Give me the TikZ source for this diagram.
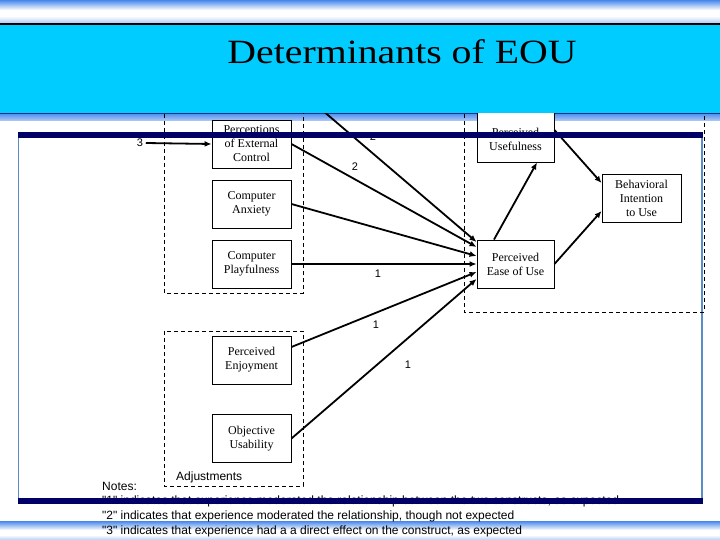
\documentclass[tikz,border=0pt]{standalone}
\usepackage{fontspec}
\usepackage{graphicx}
\setmainfont{Liberation Serif}
\newfontfamily\arialf{Liberation Sans}
\usetikzlibrary{arrows.meta,calc}
\definecolor{cyanband}{RGB}{0,204,255}
\definecolor{navybar}{RGB}{0,0,102}
\definecolor{framebl}{RGB}{90,140,200}
\definecolor{gradblue}{RGB}{70,135,235}
\definecolor{darkedge}{RGB}{20,50,140}
\begin{document}
\begin{tikzpicture}[x=1pt,y=-1pt,
  box/.style={draw=black,line width=0.9pt,fill=white,minimum width=79pt,minimum height=48pt,inner sep=0pt,align=center,font=\fontsize{12}{14}\selectfont},
  conn/.style={line width=1.8pt,-{Latex[length=7pt,width=6pt]}},
  dbox/.style={draw=black,line width=0.8pt,dash pattern=on 4pt off 3pt},
  num/.style={font=\arialf\fontsize{11}{13}\selectfont,inner sep=1pt},
  note/.style={font=\arialf\fontsize{12}{14}\selectfont,anchor=base west,inner sep=0pt}]
\useasboundingbox (0,0) rectangle (720,540);
\fill[white] (0,0) rectangle (720,540);
% top gradient band
\foreach \r in {0,...,22} {
  \pgfmathtruncatemacro\p{\r<10 ? 100-10*\r : (\r<16 ? 0 : (\r-16)*6)}
  \fill[gradblue!\p!white] (0,\r) rectangle (720,\r+1.05);
}
\fill[black] (0,23) rectangle (720,25.5);
% band under title
\foreach \r in {0,...,6} {
  \pgfmathtruncatemacro\p{90-7*\r}
  \fill[gradblue!\p!white] (0,114+\r) rectangle (720,115.05+\r);
}
\fill[darkedge] (0,113) rectangle (720,114.2);
% bottom gradient band
\foreach \r in {0,...,18} {
  \pgfmathtruncatemacro\p{\r<9 ? 100-11*\r : (\r<14 ? 0 : (\r-14)*8)}
  \fill[gradblue!\p!white] (0,521+\r) rectangle (720,522.05+\r);
}
% frame sides
\draw[framebl,line width=1.2pt] (18.5,132) -- (18.5,504);
\draw[framebl,line width=1.2pt] (702,132) -- (702,504);
% dashed groups
\draw[dbox] (164,100) rectangle (303,293);
\draw[dbox] (164,331) rectangle (303,486);
\draw[dbox] (464,100) rectangle (704,312);
% nodes
\node[box] (pec) at (251.5,144) {Perceptions\\of External\\Control};
\node[box] (anx) at (251.5,204) {Computer\\Anxiety};
\node[box] (play) at (251.5,264) {Computer\\Playfulness};
\node[box] (enj) at (251.5,360) {Perceived\\Enjoyment};
\node[box] (usab) at (251.5,438.5) {Objective\\Usability};
\node[box,minimum width=77pt,minimum height=50pt] (pu) at (515.5,137) {\\Perceived\\Usefulness};
\node[box,minimum width=77pt] (peou) at (515.5,264) {Perceived\\Ease of Use};
\node[box] (bi) at (641.5,198) {Behavioral\\Intention\\to Use};
\coordinate (topsrc) at (322,110);
\node[num,inner sep=2.5pt] (n3) at (140,143) {3};
% connectors
\draw[conn] (n3.east) -- (pec.west);
\draw[conn] (topsrc) -- ([yshift=22pt]peou.west);
\draw[conn] (pec.east) -- ([yshift=17pt]peou.west);
\draw[conn] (anx.east) -- ([yshift=8pt]peou.west);
\draw[conn] (play.east) -- (peou.west);
\draw[conn] ([yshift=13pt]enj.east) -- ([yshift=-8pt]peou.west);
\draw[conn] (usab.east) -- ([yshift=-15pt]peou.west);
\draw[conn] ([xshift=-21.5pt]peou.north) -- ([xshift=21.5pt]pu.south);
\draw[conn] ([yshift=7pt]pu.east) -- ([yshift=15pt]bi.west);
\draw[conn] (peou.east) -- ([yshift=-13pt]bi.west);
% labels
\node[num] (l2a) at (373,137) {2};
\node[num] (l2b) at (355,167) {2};
\node[num] (l1a) at (378,274) {1};
\node[num] (l1b) at (376,325) {1};
\node[num] (l1c) at (408,365) {1};
\node[note] (adj) at (176,480) {Adjustments};
\node[note] (notes) at (102,490) {Notes:};
\node[note] (n1) at (102,504.5) {"1" indicates that experience moderated the relationship between the two constructs, as expected};
\node[note] (n2) at (102,519) {"2" indicates that experience moderated the relationship, though not expected};
\node[note] (n3t) at (102,534) {"3" indicates that experience had a a direct effect on the construct, as expected};
% navy bars
\fill[navybar] (18,132) rectangle (703,138);
\fill[navybar] (18,498) rectangle (703,504);
% title band
\fill[cyanband] (0,25.5) rectangle (720,113);
\node[anchor=base,inner sep=0pt] (title) at (402,64) {\scalebox{1.17}[1]{\fontsize{34}{40}\selectfont Determinants of EOU}};
\end{tikzpicture}
\end{document}
